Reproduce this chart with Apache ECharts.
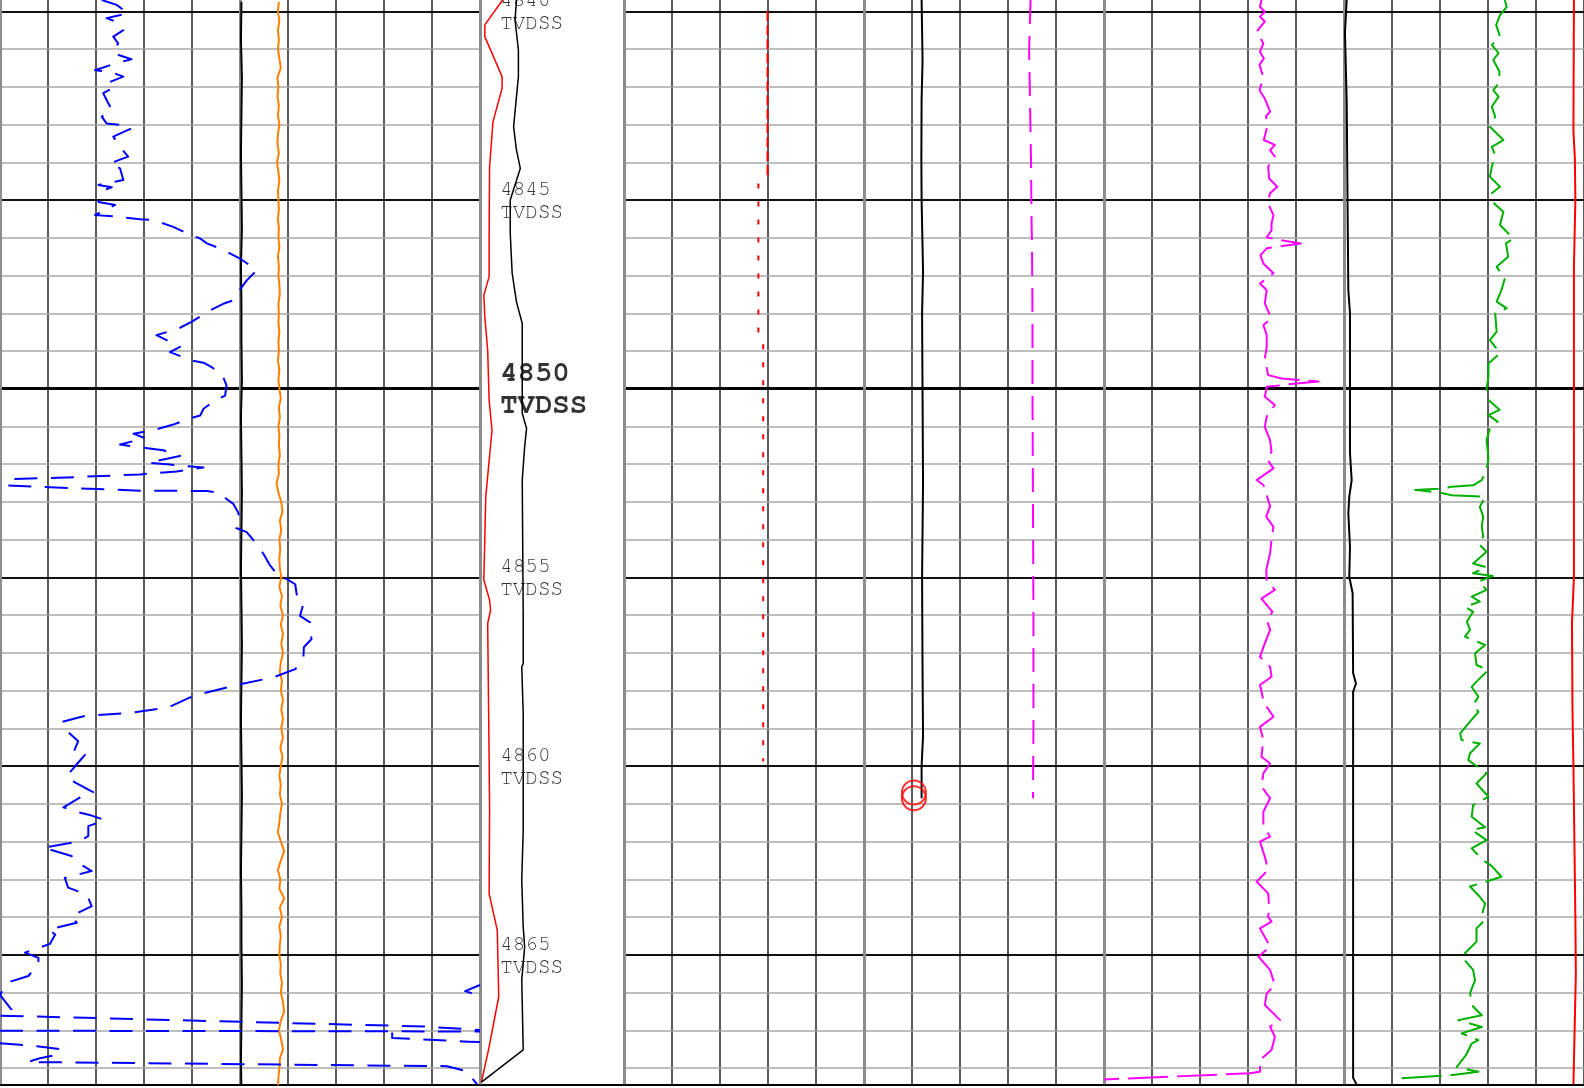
<!DOCTYPE html>
<html>
<head>
<meta charset="utf-8">
<script src="https://cdn.jsdelivr.net/npm/echarts@6/dist/echarts.min.js"></script>
<style>
  html, body { margin: 0; padding: 0; background: #ffffff; }
  #chart { width: 1584px; height: 1088px; }
</style>
</head>
<body>
<div id="chart"></div>
<script>
// ---- depth window (ft, TVDSS) ----
const DEPTH_TOP = 4839.7;
const DEPTH_BOTTOM = 4868.43;
const DEPTH_LABELS = [4840, 4845, 4850, 4855, 4860, 4865];
const GAP = ['-', '-'];

// ---- left track (scale 0-100) ----
const BLUE = [
  [21.2,4839.70],[24.3,4839.83],[26.7,4840.05],[22.2,4840.18],[24.3,4840.28],[25.7,4840.50],[23.6,4840.67],[24.6,4840.85],
  [23.6,4841.11],[27.4,4841.27],[24.0,4841.38],[19.8,4841.56],[22.9,4841.60],[25.7,4841.73],[22.9,4841.87],[24.0,4842.00],
  [21.5,4842.17],[23.3,4842.62],[21.2,4842.79],[22.2,4842.97],[25.0,4843.01],[27.4,4843.10],[23.6,4843.32],[25.0,4843.59],
  [26.7,4843.85],[22.9,4844.03],[25.0,4844.16],[25.7,4844.47],[20.5,4844.60],[23.3,4844.66],[21.5,4844.74],[20.5,4845.05],
  [24.0,4845.13],[19.8,4845.40],[24.3,4845.44],[29.2,4845.51],[31.9,4845.53],[36.1,4845.71],[38.9,4845.88],[41.7,4846.02],
  [43.1,4846.15],[45.8,4846.28],[50.0,4846.55],[53.5,4846.86],[51.4,4847.13],[49.6,4847.44],[48.6,4847.66],[46.5,4847.75],
  [43.8,4847.92],[39.9,4848.23],[37.1,4848.41],[32.6,4848.58],[37.5,4848.89],[35.4,4849.03],[39.9,4849.25],[42.4,4849.31],
  [44.1,4849.43],[46.2,4849.60],[47.2,4849.91],[46.9,4850.18],[44.8,4850.31],[42.4,4850.53],[41.7,4850.71],[39.2,4850.80],
  [36.1,4850.95],[31.9,4851.10],[27.8,4851.19],[30.2,4851.31],[25.0,4851.48],[29.2,4851.55],[34.0,4851.63],[37.5,4851.78],
  [30.9,4851.96],[35.4,4852.01],[42.4,4852.09],[36.8,4852.19],[29.2,4852.27],[13.9,4852.35],[1.7,4852.40],[1.5,4852.56],
  [10.4,4852.61],[29.2,4852.70],[43.1,4852.71],[45.8,4852.76],[47.2,4852.92],[48.6,4853.05],[49.6,4853.27],[50.0,4853.49],
  [49.2,4853.69],[51.4,4853.80],[53.1,4854.06],[54.9,4854.38],[56.3,4854.69],[58.3,4855.00],[59.7,4855.04],[61.5,4855.18],
  [61.8,4855.44],[63.3,4855.66],[62.5,4856.02],[64.6,4856.19],[64.6,4856.41],[64.9,4856.63],[63.3,4856.85],[63.2,4857.16],
  [61.5,4857.43],[56.9,4857.65],[50.0,4857.83],[42.4,4858.07],[39.6,4858.18],[35.1,4858.44],[27.8,4858.58],[20.1,4858.65],
  [17.4,4858.68],[12.9,4858.83],[13.9,4859.06],[16.3,4859.34],[15.3,4859.64],[17.7,4859.70],[16.0,4859.95],[13.9,4860.26],
  [15.6,4860.43],[19.4,4860.69],[16.7,4860.83],[13.2,4861.09],[16.3,4861.22],[19.1,4861.31],[21.9,4861.43],[18.4,4861.59],
  [18.4,4861.85],[16.7,4861.99],[9.0,4862.16],[14.9,4862.38],[17.4,4862.65],[19.1,4862.78],[13.5,4862.96],[14.2,4863.22],
  [18.1,4863.40],[19.1,4863.71],[14.9,4863.97],[16.0,4864.15],[10.1,4864.33],[11.5,4864.46],[10.4,4864.71],[5.2,4864.94],
  [8.0,4865.08],[8.0,4865.25],[5.9,4865.56],[1.4,4865.74],[0.0,4866.06],[2.4,4866.45],[0.0,4866.61],[88.5,4866.90],[100,4866.99],
  GAP,
  [0,4867.01],[100,4867.03],
  GAP,
  [81.7,4867.06],[81.7,4867.20],[97.5,4867.30],[100,4867.31],
  GAP,
  [0,4867.34],[4.8,4867.39],[7.7,4867.42],[12.5,4867.50],[12.5,4867.63],[8.3,4867.74],[5.8,4867.84],[93.1,4867.95],
  [97.1,4868.08],[99.4,4868.43],
  GAP,
  [100,4865.80],[96.9,4865.96],[100,4866.09]
];

// evenly sampled curves: first depth, step, readings
const ORANGE_START = 4839.75, ORANGE_STEP = 0.25;
const ORANGE = [
  58.1,57.9,58.2,57.9,58.1,57.9,58.2,58.5,57.8,58.0,57.8,58.1,57.9,58.2,57.9,57.8,58.1,57.7,58.0,58.2,
  57.9,58.0,58.1,57.9,58.1,58.0,58.2,57.9,58.1,58.0,58.2,58.3,58.0,58.1,58.0,58.2,58.0,58.1,57.9,58.2,
  58.0,58.2,58.5,58.1,58.3,58.0,58.2,58.1,58.3,58.0,58.1,57.6,58.0,58.6,58.85,58.3,58.6,58.2,58.4,58.2,
  58.3,58.6,58.2,58.75,58.4,58.95,58.5,58.95,58.6,58.95,58.5,58.3,58.75,58.5,58.95,58.6,58.95,58.6,58.95,58.4,
  58.85,58.5,58.2,58.5,58.3,58.75,58.4,58.2,57.9,58.5,59.2,58.5,57.9,58.4,58.2,59.2,58.3,58.75,58.2,58.5,
  58.3,58.2,58.5,58.4,58.75,58.5,58.95,59.2,58.5,58.1,58.6,58.95,58.3,58.2,58.0,57.9
];
const CALI_START = 4839.75, CALI_STEP = 1.0;
const CALI = [
  50.3,50.2,50.4,50.3,50.2,50.3,50.4,50.2,50.3,50.3,50.4,50.2,50.3,50.4,50.3,
  50.2,50.3,50.4,50.3,50.2,50.3,50.4,50.3,50.2,50.3,50.3,50.4,50.3,50.2,50.3
];

// ---- depth track (scale 0-30) ----
const DEPTH_RED = [
  [4.7,4839.70],[1.0,4840.36],[1.0,4840.67],[4.6,4841.73],[4.6,4842.04],[2.7,4842.93],[2.0,4844.12],[1.9,4845.87],
  [1.9,4847.03],[0.8,4847.52],[1.0,4848.09],[1.6,4848.98],[1.9,4850.30],[2.5,4851.10],[1.2,4852.86],[0.8,4855.07],
  [2.0,4855.60],[2.2,4855.87],[1.6,4856.22],[1.9,4859.84],[2.0,4861.08],[1.9,4863.38],[3.6,4864.35],[3.9,4866.11],
  [1.9,4867.44],[0.3,4868.37]
];
const DEPTH_BLACK = [
  [7.6,4839.70],[7.3,4840.23],[8.0,4841.03],[8.0,4841.73],[7.0,4843.06],[7.6,4843.68],[8.4,4844.16],[6.3,4845.00],
  [6.3,4845.88],[6.7,4846.94],[7.6,4847.70],[8.8,4848.27],[8.8,4850.65],[9.7,4851.05],[9.3,4851.54],[8.8,4852.42],
  [9.0,4855.95],[9.0,4857.28],[8.7,4857.37],[9.0,4858.60],[9.0,4861.70],[8.7,4863.02],[9.0,4864.26],[9.3,4864.79],
  [8.7,4865.67],[9.0,4867.52],[0.3,4868.37]
];

// ---- track A (scale 0-50) ----
const A_RED_DASH = [[29.9,4840.00],[29.9,4844.38]];
const A_RED_DOT = [[28.0,4844.56],[28.0,4848.55],[29.0,4848.80],[29.0,4859.88]];

// ---- track B (scale 0-50) ----
const B_BLACK = [
  [12.0,4839.70],[12.2,4841.30],[12.0,4842.35],[11.95,4843.90],[12.0,4845.00],[12.3,4846.90],[12.1,4848.00],
  [12.2,4850.20],[12.3,4852.50],[12.1,4855.00],[12.2,4857.50],[12.3,4859.20],[12.0,4860.00],[12.0,4860.85]
];
const B_MAGENTA = [
  [34.7,4839.70],[34.4,4841.00],[34.6,4842.50],[34.8,4844.00],[34.9,4845.50],[35.0,4846.20],[35.1,4848.00],
  [35.1,4850.00],[35.2,4853.00],[35.3,4856.00],[35.3,4859.00],[35.2,4860.85]
];
const B_MARKERS = [[10.4,4860.70],[10.4,4860.85]];

// ---- track C (scale 0-50) ----
const C_MAGENTA = [
  [32.8,4839.70],[32.5,4839.88],[33.5,4840.01],[32.5,4840.14],[33.5,4840.27],[31.8,4840.54],[33.2,4840.85],[32.5,4841.07],
  [33.3,4841.25],[32.4,4841.42],[33.2,4841.75],[32.4,4842.09],[33.5,4842.31],[34.6,4842.66],[33.8,4842.77],[33.9,4843.10],
  [33.3,4843.41],[35.6,4843.54],[34.6,4843.68],[35.6,4843.85],[34.2,4844.12],[34.4,4844.43],[36.1,4844.65],[34.6,4844.82],
  [34.1,4845.07],[35.3,4845.40],[34.9,4845.62],[34.9,4845.80],[33.9,4845.99],[37.6,4846.08],[41.0,4846.15],[33.9,4846.28],
  [32.6,4846.46],[33.2,4846.68],[35.3,4846.94],[32.5,4847.21],[33.9,4847.39],[33.5,4847.74],[34.9,4848.14],[33.2,4848.31],
  [33.9,4848.58],[33.9,4848.89],[33.5,4849.20],[34.2,4849.64],[37.0,4849.73],[44.7,4849.81],[40.1,4849.86],[37.4,4849.90],
  [33.9,4849.95],[33.5,4850.21],[35.6,4850.43],[33.9,4850.74],[33.5,4851.01],[34.6,4851.36],[34.9,4851.67],[33.9,4851.85],
  [35.3,4852.11],[31.8,4852.42],[33.2,4852.55],[33.9,4852.82],[34.6,4853.11],[33.8,4853.39],[35.3,4853.66],[34.9,4854.01],
  [34.6,4854.36],[33.8,4854.80],[33.9,4855.07],[35.6,4855.33],[32.8,4855.56],[35.1,4855.91],[33.9,4856.13],[34.6,4856.39],
  [33.5,4856.75],[32.5,4857.10],[34.6,4857.37],[34.9,4857.63],[32.5,4857.85],[33.2,4858.25],[33.9,4858.43],[35.3,4858.69],
  [32.5,4858.96],[33.2,4859.31],[32.8,4859.75],[34.6,4859.93],[33.2,4860.19],[32.8,4860.54],[34.6,4860.85],[33.2,4861.21],
  [33.2,4861.56],[34.6,4861.87],[32.5,4862.00],[33.5,4862.40],[34.2,4862.75],[31.8,4863.06],[34.2,4863.37],[34.4,4863.73],
  [34.2,4863.99],[34.9,4864.12],[32.5,4864.30],[34.6,4864.78],[32.2,4865.05],[34.6,4865.40],[35.6,4865.80],[33.9,4866.02],
  [33.5,4866.33],[36.7,4866.73],[34.6,4866.90],[35.6,4867.17],[34.9,4867.52],[32.5,4867.79],[32.5,4868.10],[30.4,4868.14],
  [0.0,4868.30]
];

// ---- track D (scale 0-50) ----
const D_BLACK = [
  [0.56,4839.70],[0.2,4840.58],[0.56,4842.35],[0.9,4847.39],[1.25,4848.00],[1.25,4851.71],[1.6,4852.42],[1.1,4852.86],
  [0.9,4853.30],[1.25,4854.19],[1.1,4854.98],[1.8,4855.42],[1.9,4857.54],[2.5,4857.81],[1.9,4858.03],[1.9,4868.26],
  [2.6,4868.43]
];
const D_GREEN = [
  [33.5,4839.70],[33.9,4839.88],[32.5,4840.10],[31.7,4840.36],[32.5,4840.67],[30.8,4840.89],[32.2,4841.11],[31.1,4841.29],
  [32.4,4841.60],[32.2,4841.91],[31.1,4842.09],[32.2,4842.26],[30.8,4842.53],[31.5,4842.79],[30.4,4843.06],[33.2,4843.41],
  [30.8,4843.59],[31.5,4843.81],[30.8,4844.12],[30.4,4844.38],[32.5,4844.65],[30.8,4844.82],[31.3,4845.09],[33.2,4845.31],
  [32.5,4845.66],[35.3,4846.02],[33.75,4846.15],[34.2,4846.50],[31.8,4846.77],[33.5,4847.08],[32.8,4847.39],[31.8,4847.69],
  [33.9,4847.87],[31.5,4848.00],[31.8,4848.49],[30.4,4848.71],[32.5,4849.06],[30.1,4849.33],[30.1,4849.68],[29.7,4849.99],
  [30.1,4850.30],[32.4,4850.56],[30.1,4850.70],[32.0,4850.87],[30.4,4851.05],[29.7,4851.36],[30.1,4851.85],[29.7,4852.15],
  [28.7,4852.42],[26.9,4852.56],[22.4,4852.60],[19.7,4852.65],[14.8,4852.68],[19.7,4852.75],[22.4,4852.82],[29.4,4852.86],
  [28.3,4853.13],[29.0,4853.39],[28.7,4853.66],[29.0,4853.92],[28.0,4854.10],[29.7,4854.32],[26.9,4854.63],[29.7,4854.73],
  [26.9,4854.89],[31.0,4854.96],[28.0,4855.11],[29.7,4855.33],[26.6,4855.51],[28.3,4855.64],[25.2,4855.78],[26.9,4855.91],
  [25.6,4856.17],[26.25,4856.39],[25.2,4856.57],[29.4,4856.79],[27.3,4857.01],[27.6,4857.32],[30.1,4857.45],[27.6,4857.76],
  [26.6,4857.90],[28.0,4858.16],[26.9,4858.38],[28.0,4858.56],[26.25,4858.82],[24.2,4859.13],[24.5,4859.31],[28.3,4859.40],
  [27.6,4859.49],[26.25,4859.66],[25.9,4859.84],[29.7,4860.19],[27.6,4860.46],[30.1,4860.81],[26.9,4861.03],[26.6,4861.34],
  [29.4,4861.62],[26.6,4861.69],[29.7,4861.96],[26.6,4862.18],[29.0,4862.49],[30.8,4862.65],[32.8,4862.93],[26.25,4863.19],
  [28.0,4863.42],[29.4,4863.64],[28.7,4863.95],[29.0,4864.12],[27.6,4864.30],[27.6,4864.65],[24.5,4865.05],[26.9,4865.40],
  [27.3,4865.67],[26.25,4866.02],[26.9,4866.37],[28.7,4866.60],[23.8,4866.73],[28.7,4866.91],[24.5,4867.08],[28.0,4867.26],
  [26.6,4867.35],[25.4,4867.66],[23.5,4867.97],[28.0,4868.10],[22.1,4868.19],[12.0,4868.27],[12.4,4868.41]
];
const D_RED = [
  [47.9,4839.70],[47.8,4843.20],[48.1,4843.90],[48.2,4845.00],[47.9,4846.80],[47.9,4849.80],[47.9,4855.00],[47.5,4856.20],
  [47.6,4858.50],[47.8,4860.00],[48.2,4864.00],[48.3,4865.50],[47.8,4868.43]
];

// ---------------- layout ----------------
const PLOT_TOP = 0, PLOT_BOTTOM = 3.7;
const TRACKS = [
  { left: 0,    width: 480, max: 100, split: true  },  // 0: left pair of tracks
  { left: 480,  width: 144, max: 30,  split: false },  // 1: depth track
  { left: 624,  width: 240, max: 50,  split: true  },  // 2
  { left: 864,  width: 240, max: 50,  split: true  },  // 3
  { left: 1104, width: 240, max: 50,  split: true  },  // 4
  { left: 1344, width: 240, max: 50,  split: true  }   // 5
];
const LABEL_X = 4.2;
const FONT = '"Nimbus Mono PS", "Nimbus Mono L", "FreeMono", "Courier New", Courier, "Liberation Mono", monospace';

const grids = TRACKS.map(t => ({ left: t.left, width: t.width, top: PLOT_TOP, bottom: PLOT_BOTTOM, containLabel: false }));
const xAxes = TRACKS.map((t, i) => ({
  type: 'value', gridIndex: i, min: 0, max: t.max, interval: 10, position: 'bottom',
  axisLine: { show: true, onZero: false, lineStyle: { color: '#000', width: 2 } },
  axisTick: { show: false }, axisLabel: { show: false },
  splitLine: { show: t.split, lineStyle: { color: '#5a5a5a', width: 2 } }
}));
const yAxes = TRACKS.map((t, i) => ({
  type: 'value', gridIndex: i, inverse: true, min: DEPTH_TOP, max: DEPTH_BOTTOM,
  axisLine: { show: false }, axisTick: { show: false }, axisLabel: { show: false }, splitLine: { show: false }
}));

// depth grid lines: every foot, heavier every 5 ft, heaviest every 50 ft
function depthLines() {
  const out = [];
  for (let d = Math.ceil(DEPTH_TOP); d <= Math.floor(DEPTH_BOTTOM); d++) {
    let style;
    if (d % 50 === 0) style = { color: '#000', width: 3, type: 'solid' };
    else if (d % 5 === 0) style = { color: '#111', width: 2, type: 'solid' };
    else style = { color: '#a8a8a8', width: 1.5, type: 'solid' };
    out.push({ yAxis: d, lineStyle: style });
  }
  return out;
}
function borderLines(values) {
  return values.map(v => ({ xAxis: v, lineStyle: { color: '#8c8c8c', width: 3, type: 'solid' } }));
}
function frameSeries(i, withDepthLines, borders) {
  const data = (withDepthLines ? depthLines() : []).concat(borderLines(borders));
  return {
    type: 'line', xAxisIndex: i, yAxisIndex: i, data: [], z: 1, silent: true,
    markLine: { z: 1, silent: true, symbol: ['none', 'none'], label: { show: false }, animation: false, data: data }
  };
}
function curve(i, data, color, width, dash, z) {
  return {
    type: 'line', xAxisIndex: i, yAxisIndex: i, data: data, showSymbol: false, symbol: 'none',
    connectNulls: false, clip: true, z: z || 3, silent: true,
    lineStyle: { color: color, width: width, type: dash || 'solid', cap: 'butt', join: 'round' }
  };
}
function sampled(start, step, values) {
  return values.map((v, k) => [v, start + k * step]);
}

const labelData = DEPTH_LABELS.map(d => {
  const item = { value: [LABEL_X, d] };
  if (d % 50 === 0) item.label = { fontSize: 29, fontWeight: 'bold', lineHeight: 32 };
  return item;
});

const series = [
  frameSeries(0, true, [0, 50, 100]),
  frameSeries(1, false, [0]),
  frameSeries(2, true, [0]),
  frameSeries(3, true, [0]),
  frameSeries(4, true, [0]),
  frameSeries(5, true, [0]),

  curve(0, sampled(CALI_START, CALI_STEP, CALI), '#000000', 2),
  curve(0, sampled(ORANGE_START, ORANGE_STEP, ORANGE), '#ff8000', 2),
  curve(0, BLUE, '#0000ff', 2, [23, 13.5], 4),

  curve(1, DEPTH_RED, '#ff0000', 1.5),
  curve(1, DEPTH_BLACK, '#000000', 1.5),
  {
    type: 'scatter', xAxisIndex: 1, yAxisIndex: 1, data: labelData, symbolSize: 0, z: 5, silent: true,
    label: {
      show: true, position: 'right', distance: 0, color: '#000', fontFamily: FONT, fontSize: 21, lineHeight: 23,
      formatter: p => p.value[1] + '\nTVDSS'
    }
  },

  curve(2, A_RED_DASH, '#ff0000', 2, [10, 4]),
  curve(2, A_RED_DOT, '#ff0000', 2, [5, 13]),

  curve(3, B_BLACK, '#000000', 2),
  curve(3, B_MAGENTA, '#ff00ff', 2, [24, 12]),
  {
    type: 'scatter', xAxisIndex: 3, yAxisIndex: 3, data: B_MARKERS, symbol: 'circle', symbolSize: 24, z: 4, silent: true,
    itemStyle: { color: 'rgba(0,0,0,0)', borderColor: '#ff0000', borderWidth: 2 }
  },

  curve(4, C_MAGENTA, '#ff00ff', 2, [40, 9]),

  curve(5, D_BLACK, '#000000', 2),
  curve(5, D_GREEN, '#00b000', 2, [40, 9]),
  curve(5, D_RED, '#ff0000', 2)
];

const chart = echarts.init(document.getElementById('chart'), null, { renderer: 'canvas' });
chart.setOption({
  animation: false,
  backgroundColor: '#ffffff',
  grid: grids,
  xAxis: xAxes,
  yAxis: yAxes,
  series: series
});
</script>
</body>
</html>
